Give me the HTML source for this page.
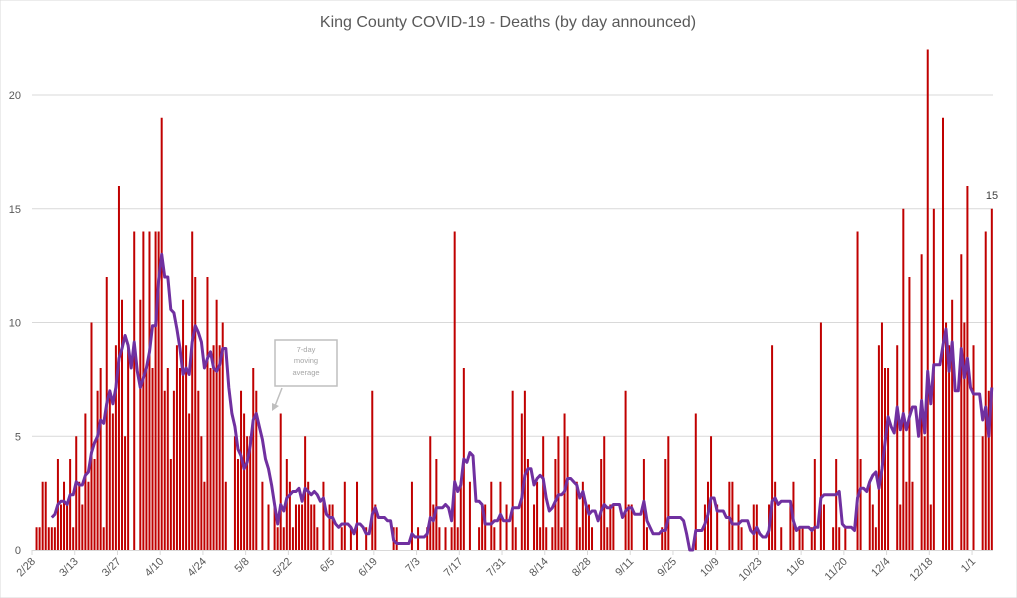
<!DOCTYPE html>
<html><head><meta charset="utf-8"><style>
html,body{margin:0;padding:0;background:#fff;}
svg{display:block;font-family:"Liberation Sans",sans-serif;}
</style></head><body>
<svg id="c" width="1017" height="598" viewBox="0 0 1017 598" xmlns="http://www.w3.org/2000/svg">
<rect x="0" y="0" width="1017" height="598" fill="#fff" stroke="#d9d9d9"/>
<text x="508" y="27" text-anchor="middle" font-size="16" fill="#595959">King County COVID-19 - Deaths (by day announced)</text>
<g id="grid"></g><g id="bars"></g><g id="line"></g><g id="lab"></g>
<rect x="275" y="340" width="62" height="46" fill="#fff" stroke="#bfbfbf" stroke-width="1.5"/>
<text x="306" y="352" text-anchor="middle" font-size="7.5" fill="#a6a6a6">7-day</text>
<text x="306" y="363" text-anchor="middle" font-size="7.5" fill="#a6a6a6">moving</text>
<text x="306" y="375" text-anchor="middle" font-size="7.5" fill="#a6a6a6">average</text>
<line x1="282" y1="388" x2="275" y2="406" stroke="#bfbfbf" stroke-width="1.5"/>
<polygon points="272,411 272,403 279,406" fill="#bfbfbf"/>
<text x="992" y="199" text-anchor="middle" font-size="11" fill="#404040">15</text>
</svg>
<script>
var D={1:1,2:1,3:3,4:3,5:1,6:1,7:1,8:4,9:2,10:3,11:2,12:4,13:1,14:5,15:3,16:2,17:6,18:3,19:10,20:4,21:7,22:8,23:1,24:12,25:7,26:6,27:9,28:16,29:11,30:5,31:9,33:14,35:11,36:14,37:8,38:14,39:8,40:14,41:14,42:19,43:7,44:8,45:4,46:7,47:9,48:8,49:11,50:9,51:6,52:14,53:12,54:7,55:5,56:3,57:12,58:8,59:9,60:11,61:9,62:10,63:3,66:5,67:4,68:7,69:6,70:5,71:5,72:8,73:7,75:3,77:2,79:2,80:1,81:6,82:1,83:4,84:3,85:1,86:2,87:2,88:2,89:5,90:3,91:2,92:2,93:1,95:3,97:2,98:2,101:1,102:3,104:1,106:3,109:1,111:7,112:2,118:1,119:1,124:3,126:1,129:1,130:5,131:2,132:4,133:1,135:1,137:1,138:14,139:1,140:3,141:8,143:3,146:1,147:2,148:2,150:3,151:1,153:3,155:2,157:7,158:1,160:6,161:7,162:4,164:2,165:3,166:1,167:5,168:1,170:1,171:4,172:5,173:1,174:6,175:5,178:3,179:1,180:3,181:2,182:2,183:1,186:4,187:5,188:1,189:2,190:2,194:7,195:2,196:2,200:4,201:1,206:1,207:4,208:5,217:6,220:2,221:3,222:5,224:2,228:3,229:3,231:2,232:1,236:2,237:2,241:2,242:9,243:3,245:1,248:2,249:3,251:1,252:1,255:1,256:4,258:10,259:2,262:1,263:4,264:1,266:1,270:14,271:4,274:3,275:2,276:1,277:9,278:10,279:8,280:8,283:9,284:2,285:15,286:3,287:12,288:3,291:13,292:5,293:22,294:2,295:15,298:19,299:10,300:9,301:11,304:13,305:10,306:16,308:9,311:5,312:14,313:7,314:15};
var NS="http://www.w3.org/2000/svg";
function el(t,a,p){var e=document.createElementNS(NS,t);for(var k in a)e.setAttribute(k,a[k]);document.getElementById(p).appendChild(e);return e;}
function X(d){return 33.5+3.052*d;}
function Y(v){return 550-22.75*v;}
for(var v=5;v<=20;v+=5){el("line",{x1:32,x2:993,y1:Y(v),y2:Y(v),stroke:"#d9d9d9","stroke-width":1},"grid");}
el("line",{x1:32,x2:993,y1:550.5,y2:550.5,stroke:"#d9d9d9","stroke-width":1},"grid");
for(var v=0;v<=20;v+=5){var t=el("text",{x:21,y:Y(v)+4,"text-anchor":"end","font-size":11,fill:"#595959"},"lab");t.textContent=v;}
var labs=["2/28","3/13","3/27","4/10","4/24","5/8","5/22","6/5","6/19","7/3","7/17","7/31","8/14","8/28","9/11","9/25","10/9","10/23","11/6","11/20","12/4","12/18","1/1"];
for(var i=0;i<labs.length;i++){var tx=32+42.73*i;
el("line",{x1:tx,x2:tx,y1:550,y2:555,stroke:"#d9d9d9"},"grid");
var t=el("text",{x:0,y:0,"text-anchor":"end","font-size":11,fill:"#595959",transform:"translate("+(tx+4)+",562) rotate(-45)"},"lab");t.textContent=labs[i];}
for(var d=0;d<=314;d++){var v=D[d]||0;if(v>0){el("rect",{x:X(d)-1,y:Y(v),width:2,height:550-Y(v),fill:"#c00000"},"bars");}}
var pts=[];for(var d=6;d<=314;d++){var s=0;for(var k=d-6;k<=d;k++)s+=(D[k]||0);pts.push(X(d).toFixed(1)+","+Y(s/7).toFixed(1));}
el("polyline",{points:pts.join(" "),fill:"none",stroke:"#7030a0","stroke-width":3,"stroke-linejoin":"round"},"line");
</script>
</body></html>
